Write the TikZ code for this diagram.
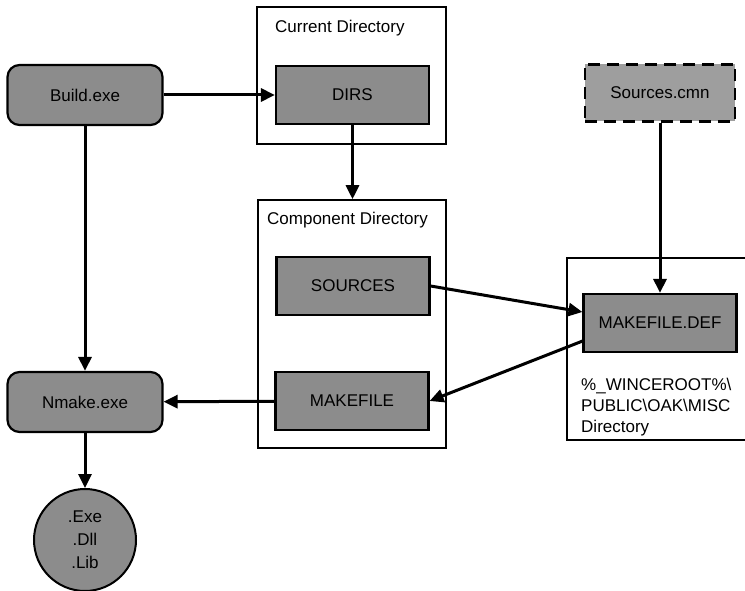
\documentclass[tikz,border=0pt]{standalone}
\usepackage{fontspec}
\setmainfont{Liberation Sans}
\usetikzlibrary{arrows.meta}
\tikzset{
  txt/.style={font=\fontsize{17}{21}\selectfont},
  filebox/.style={txt,draw,line width=2.2pt,fill=black!45,minimum width=153pt,minimum height=58pt},
  toolbox/.style={filebox,rounded corners=12pt,minimum width=155pt,minimum height=60pt},
  dirbox/.style={draw,line width=1.6pt},
  flow/.style={line width=3pt,-{Triangle[length=14pt,width=13pt]}}
}
\begin{document}
\begin{tikzpicture}[x=1pt,y=-1pt]
\useasboundingbox (0,0) rectangle (745,591);
\node[dirbox,minimum width=189pt,minimum height=137pt] (curdir) at (351.5,75.5) {};
\node[txt,anchor=west,inner sep=0pt] (curlabel) at (275,28) {Current Directory};
\node[dirbox,minimum width=188pt,minimum height=248pt] (compdir) at (352,324) {};
\node[txt,anchor=west,inner sep=0pt] (complabel) at (267,220) {Component Directory};
\draw[line width=1.6pt] (745,258) -| (567,440) -- (745,440);
\node[txt,anchor=west,align=left,inner sep=0pt] (misclabel) at (581,407) {\%\_WINCEROOT\%\textbackslash\\PUBLIC\textbackslash OAK\textbackslash MISC\\Directory};
\node[toolbox] (build) at (85,95) {Build.exe};
\node[toolbox] (nmake) at (85,402) {Nmake.exe};
\node[circle,draw,line width=2pt,fill=black!45,minimum size=102pt,align=center,font=\fontsize{17}{23}\selectfont] (output) at (85,540) {.Exe\\.Dll\\.Lib};
\node[filebox] (dirs) at (352.5,95) {DIRS};
\node[filebox] (sources) at (353,286) {SOURCES};
\node[filebox] (makefile) at (352,401) {MAKEFILE};
\node[filebox] (makedef) at (660,323) {MAKEFILE.DEF};
\node[filebox,fill=black!38,dash pattern=on 12pt off 7pt,minimum width=150pt,minimum height=57pt] (common) at (660,93) {Sources.cmn};
\draw[flow] (build) -- (dirs);
\draw[flow] (dirs.south) -- (dirs.south |- compdir.north);
\draw[flow] (build) -- (nmake);
\draw[flow] (makefile) -- (nmake);
\draw[flow] (nmake) -- (output);
\draw[flow] (common) -- (makedef);
\draw[flow] (sources.east) -- ([yshift=11pt]makedef.west);
\draw[flow] ([yshift=12pt]makedef.south west) -- (makefile.east);
\end{tikzpicture}
\end{document}
